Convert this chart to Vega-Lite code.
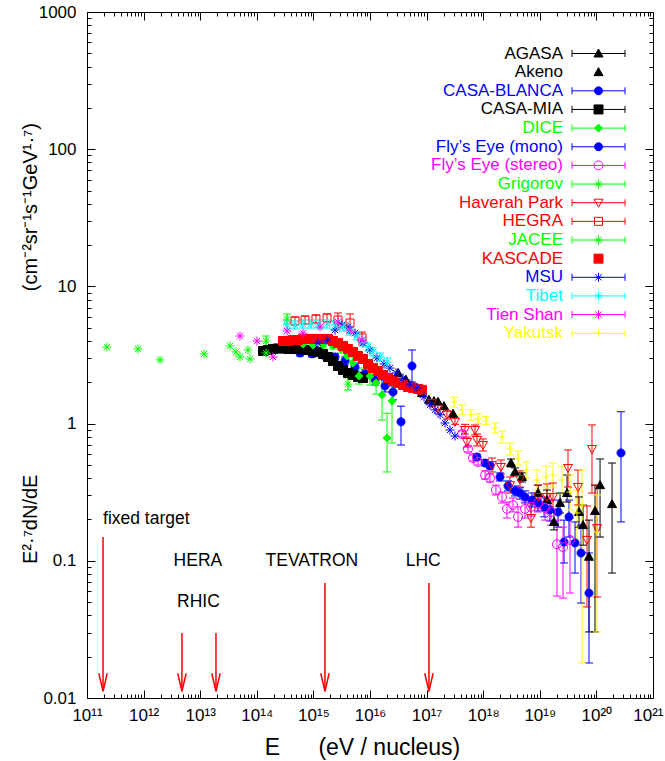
{
"$schema": "https://vega.github.io/schema/vega-lite/v6.json",
"width": 566, "height": 686,
"autosize": {"type": "none"},
"padding": {"left": 87, "top": 12, "right": 12, "bottom": 63},
"background": "white",
"config": {
  "font": "Liberation Sans",
  "view": {"stroke": "#000000", "strokeWidth": 1},
  "axis": {"grid": false, "domain": false, "tickColor": "#000000", "tickWidth": 1, "labelColor": "#000000", "titleColor": "#000000", "labelFont": "Liberation Sans", "titleFont": "Liberation Sans", "labelFontSize": 17, "titleFontSize": 20, "titleFontWeight": "normal", "labelFlush": false, "labelOverlap": false, "labelBound": false}
},
"resolve": {"axis": {"x": "independent", "y": "independent"}, "legend": {"stroke": "independent"}},
"datasets": {
"cr": [
{"s":"AGASA","e":3.1e18,"f":0.516,"lo":0.483,"hi":0.552},
{"s":"AGASA","e":3.65e18,"f":0.444,"lo":0.415,"hi":0.475},
{"s":"AGASA","e":4.85e18,"f":0.408,"lo":0.375,"hi":0.437},
{"s":"AGASA","e":9.3e18,"f":0.312,"lo":0.277,"hi":0.356},
{"s":"AGASA","e":1.34e19,"f":0.277,"lo":0.235,"hi":0.328},
{"s":"AGASA","e":1.78e19,"f":0.192,"lo":0.168,"hi":0.227},
{"s":"AGASA","e":2.28e19,"f":0.264,"lo":0.223,"hi":0.312},
{"s":"AGASA","e":3.03e19,"f":0.312,"lo":0.268,"hi":0.422},
{"s":"AGASA","e":4.93e19,"f":0.227,"lo":0.176,"hi":0.292},
{"s":"AGASA","e":5.8e19,"f":0.182,"lo":0.13,"hi":0.255},
{"s":"AGASA","e":7.4e19,"f":0.107,"lo":0.0303,"hi":0.198},
{"s":"AGASA","e":9.45e19,"f":0.231,"lo":0.0303,"hi":0.356},
{"s":"AGASA","e":1.16e20,"f":0.356,"lo":0.149,"hi":0.552},
{"s":"AGASA","e":1.89e20,"f":0.259,"lo":0.0814,"hi":0.516},
{"s":"Akeno","e":3.13e16,"f":2.34},
{"s":"Akeno","e":4.33e16,"f":2.08},
{"s":"Akeno","e":5.98e16,"f":1.85},
{"s":"Akeno","e":8.29e16,"f":1.67},
{"s":"Akeno","e":1.1e17,"f":1.49},
{"s":"Akeno","e":1.35e17,"f":1.46},
{"s":"Akeno","e":1.59e17,"f":1.44},
{"s":"Akeno","e":2.03e17,"f":1.34},
{"s":"Akeno","e":2.93e17,"f":1.18},
{"s":"CASA-BLANCA","e":5.8e14,"f":3.27,"lo":3.11,"hi":3.44},
{"s":"CASA-BLANCA","e":9.44e14,"f":3.22,"lo":3.06,"hi":3.38},
{"s":"CASA-BLANCA","e":1.48e15,"f":3.16,"lo":3.01,"hi":3.33},
{"s":"CASA-BLANCA","e":2.41e15,"f":3.06,"lo":2.91,"hi":3.22},
{"s":"CASA-BLANCA","e":3.62e15,"f":2.86,"lo":2.67,"hi":3.06},
{"s":"CASA-BLANCA","e":5.43e15,"f":2.59,"lo":2.42,"hi":2.77},
{"s":"CASA-BLANCA","e":8.16e15,"f":2.3,"lo":2.15,"hi":2.46},
{"s":"CASA-BLANCA","e":1.23e16,"f":2.08,"lo":1.91,"hi":2.26},
{"s":"CASA-BLANCA","e":1.84e16,"f":1.88,"lo":1.7,"hi":2.05},
{"s":"CASA-BLANCA","e":2.55e16,"f":1.7,"lo":1.49,"hi":1.88},
{"s":"CASA-BLANCA","e":3.53e16,"f":1.03,"lo":0.698,"hi":1.34},
{"s":"CASA-BLANCA","e":5.52e16,"f":2.63,"lo":2.01,"hi":3.44},
{"s":"CASA-MIA","e":1.29e14,"f":3.38},
{"s":"CASA-MIA","e":1.58e14,"f":3.44},
{"s":"CASA-MIA","e":1.93e14,"f":3.5},
{"s":"CASA-MIA","e":2.37e14,"f":3.53},
{"s":"CASA-MIA","e":2.9e14,"f":3.53},
{"s":"CASA-MIA","e":3.56e14,"f":3.5},
{"s":"CASA-MIA","e":4.36e14,"f":3.5},
{"s":"CASA-MIA","e":5.35e14,"f":3.5},
{"s":"CASA-MIA","e":6.55e14,"f":3.47},
{"s":"CASA-MIA","e":8.03e14,"f":3.44},
{"s":"CASA-MIA","e":9.85e14,"f":3.38},
{"s":"CASA-MIA","e":1.21e15,"f":3.33},
{"s":"CASA-MIA","e":1.48e15,"f":3.22},
{"s":"CASA-MIA","e":1.81e15,"f":3.06},
{"s":"CASA-MIA","e":2.22e15,"f":2.86},
{"s":"CASA-MIA","e":2.72e15,"f":2.63},
{"s":"CASA-MIA","e":3.34e15,"f":2.46},
{"s":"CASA-MIA","e":4.08e15,"f":2.34},
{"s":"CASA-MIA","e":5.01e15,"f":2.26},
{"s":"CASA-MIA","e":6.14e15,"f":2.19},
{"s":"CASA-MIA","e":7.52e15,"f":2.15},
{"s":"DICE","e":6.55e14,"f":3.8,"lo":3.61,"hi":4.0},
{"s":"DICE","e":9.85e14,"f":3.74,"lo":3.56,"hi":3.94},
{"s":"DICE","e":1.48e15,"f":3.74,"lo":3.56,"hi":3.94},
{"s":"DICE","e":2.22e15,"f":3.68,"lo":3.5,"hi":3.87},
{"s":"DICE","e":3.08e15,"f":3.5,"lo":3.27,"hi":3.74},
{"s":"DICE","e":3.92e15,"f":3.11,"lo":2.86,"hi":3.38},
{"s":"DICE","e":5.01e15,"f":2.77,"lo":2.5,"hi":3.06},
{"s":"DICE","e":6.4e15,"f":2.22,"lo":1.94,"hi":2.54},
{"s":"DICE","e":1.0e16,"f":2.22,"lo":1.91,"hi":2.59},
{"s":"DICE","e":1.28e16,"f":1.98,"lo":1.64,"hi":2.38},
{"s":"DICE","e":1.63e16,"f":1.62,"lo":1.06,"hi":2.34},
{"s":"DICE","e":2.0e16,"f":0.786,"lo":0.444,"hi":1.19},
{"s":"DICE","e":2.45e16,"f":1.46,"lo":0.722,"hi":1.98},
{"s":"Fly’s Eye (mono)","e":7.77e17,"f":0.571,"lo":0.543,"hi":0.6},
{"s":"Fly’s Eye (mono)","e":1.08e18,"f":0.516,"lo":0.491,"hi":0.543},
{"s":"Fly’s Eye (mono)","e":1.32e18,"f":0.491,"lo":0.467,"hi":0.516},
{"s":"Fly’s Eye (mono)","e":1.98e18,"f":0.408,"lo":0.382,"hi":0.437},
{"s":"Fly’s Eye (mono)","e":2.74e18,"f":0.351,"lo":0.323,"hi":0.382},
{"s":"Fly’s Eye (mono)","e":3.65e18,"f":0.323,"lo":0.297,"hi":0.351},
{"s":"Fly’s Eye (mono)","e":4.47e18,"f":0.312,"lo":0.282,"hi":0.34},
{"s":"Fly’s Eye (mono)","e":5.48e18,"f":0.292,"lo":0.264,"hi":0.323},
{"s":"Fly’s Eye (mono)","e":7.28e18,"f":0.277,"lo":0.247,"hi":0.312},
{"s":"Fly’s Eye (mono)","e":9.3e18,"f":0.264,"lo":0.231,"hi":0.302},
{"s":"Fly’s Eye (mono)","e":1.19e19,"f":0.247,"lo":0.209,"hi":0.287},
{"s":"Fly’s Eye (mono)","e":1.51e19,"f":0.235,"lo":0.195,"hi":0.277},
{"s":"Fly’s Eye (mono)","e":2.1e19,"f":0.227,"lo":0.176,"hi":0.277},
{"s":"Fly’s Eye (mono)","e":2.68e19,"f":0.137,"lo":0.0964,"hi":0.198},
{"s":"Fly’s Eye (mono)","e":3.28e19,"f":0.209,"lo":0.149,"hi":0.277},
{"s":"Fly’s Eye (mono)","e":4.19e19,"f":0.135,"lo":0.0814,"hi":0.192},
{"s":"Fly’s Eye (mono)","e":5.35e19,"f":0.114,"lo":0.0492,"hi":0.182},
{"s":"Fly’s Eye (mono)","e":7.4e19,"f":0.0582,"lo":0.018,"hi":0.114},
{"s":"Fly’s Eye (mono)","e":2.72e20,"f":0.611,"lo":0.192,"hi":1.22},
{"s":"Fly’s Eye (stereo)","e":4.22e17,"f":0.84,"lo":0.798,"hi":0.883},
{"s":"Fly’s Eye (stereo)","e":5.38e17,"f":0.653,"lo":0.621,"hi":0.687},
{"s":"Fly’s Eye (stereo)","e":6.6e17,"f":0.561,"lo":0.534,"hi":0.591},
{"s":"Fly’s Eye (stereo)","e":8.09e17,"f":0.525,"lo":0.499,"hi":0.552},
{"s":"Fly’s Eye (stereo)","e":1.08e18,"f":0.422,"lo":0.394,"hi":0.452},
{"s":"Fly’s Eye (stereo)","e":1.32e18,"f":0.401,"lo":0.375,"hi":0.43},
{"s":"Fly’s Eye (stereo)","e":1.68e18,"f":0.328,"lo":0.302,"hi":0.356},
{"s":"Fly’s Eye (stereo)","e":2.15e18,"f":0.292,"lo":0.264,"hi":0.317},
{"s":"Fly’s Eye (stereo)","e":2.63e18,"f":0.239,"lo":0.205,"hi":0.268},
{"s":"Fly’s Eye (stereo)","e":3.36e18,"f":0.255,"lo":0.227,"hi":0.287},
{"s":"Fly’s Eye (stereo)","e":4.12e18,"f":0.209,"lo":0.176,"hi":0.247},
{"s":"Fly’s Eye (stereo)","e":5.48e18,"f":0.239,"lo":0.205,"hi":0.273},
{"s":"Fly’s Eye (stereo)","e":7.0e18,"f":0.247,"lo":0.212,"hi":0.287},
{"s":"Fly’s Eye (stereo)","e":9.3e18,"f":0.264,"lo":0.227,"hi":0.307},
{"s":"Fly’s Eye (stereo)","e":1.24e19,"f":0.243,"lo":0.198,"hi":0.292},
{"s":"Fly’s Eye (stereo)","e":1.58e19,"f":0.227,"lo":0.182,"hi":0.277},
{"s":"Fly’s Eye (stereo)","e":2.01e19,"f":0.132,"lo":0.0553,"hi":0.198},
{"s":"Fly’s Eye (stereo)","e":2.57e19,"f":0.126,"lo":0.0535,"hi":0.176},
{"s":"Fly’s Eye (stereo)","e":3.42e19,"f":0.142,"lo":0.0582,"hi":0.205},
{"s":"Grigorov","e":2.25e11,"f":3.61},
{"s":"Grigorov","e":7.96e11,"f":3.5},
{"s":"Grigorov","e":1.95e12,"f":2.91},
{"s":"Grigorov","e":1.17e13,"f":3.22},
{"s":"Grigorov","e":3.36e13,"f":3.68},
{"s":"Grigorov","e":4.29e13,"f":3.33},
{"s":"Grigorov","e":5.05e13,"f":3.06},
{"s":"Grigorov","e":7.0e13,"f":3.44},
{"s":"Grigorov","e":7.59e13,"f":2.96},
{"s":"Grigorov","e":1.46e14,"f":3.27},
{"s":"Haverah Park","e":1.24e17,"f":1.41,"lo":1.34,"hi":1.49},
{"s":"Haverah Park","e":1.59e17,"f":1.28,"lo":1.19,"hi":1.37},
{"s":"Haverah Park","e":2.29e17,"f":1.16,"lo":1.08,"hi":1.24},
{"s":"Haverah Park","e":3.17e17,"f":1.03,"lo":0.988,"hi":1.1},
{"s":"Haverah Park","e":4.77e17,"f":0.898,"lo":0.84,"hi":0.988},
{"s":"Haverah Park","e":7.16e17,"f":0.898,"lo":0.826,"hi":0.977},
{"s":"Haverah Park","e":5.17e17,"f":0.734,"lo":0.675,"hi":0.798},
{"s":"Haverah Park","e":7.77e17,"f":0.759,"lo":0.687,"hi":0.84},
{"s":"Haverah Park","e":9.91e17,"f":0.698,"lo":0.631,"hi":0.773},
{"s":"Haverah Park","e":1.43e18,"f":0.499,"lo":0.444,"hi":0.561},
{"s":"Haverah Park","e":2.06e18,"f":0.483,"lo":0.43,"hi":0.543},
{"s":"Haverah Park","e":2.97e18,"f":0.356,"lo":0.312,"hi":0.408},
{"s":"Haverah Park","e":4.47e18,"f":0.394,"lo":0.345,"hi":0.452},
{"s":"Haverah Park","e":7.0e18,"f":0.205,"lo":0.176,"hi":0.255},
{"s":"Haverah Park","e":9.3e18,"f":0.292,"lo":0.243,"hi":0.356},
{"s":"Haverah Park","e":1.34e19,"f":0.292,"lo":0.235,"hi":0.363},
{"s":"Haverah Park","e":1.71e19,"f":0.292,"lo":0.227,"hi":0.369},
{"s":"Haverah Park","e":3.15e19,"f":0.475,"lo":0.345,"hi":0.643},
{"s":"Haverah Park","e":4.73e19,"f":0.345,"lo":0.255,"hi":0.459},
{"s":"Haverah Park","e":6.82e19,"f":0.142,"lo":0.0461,"hi":0.251},
{"s":"Haverah Park","e":8.36e19,"f":0.653,"lo":0.312,"hi":0.978},
{"s":"Haverah Park","e":1.03e20,"f":0.173,"lo":0.0544,"hi":0.356},
{"s":"HEGRA","e":4.73e14,"f":5.6,"lo":5.24,"hi":5.98},
{"s":"HEGRA","e":7.11e14,"f":5.69,"lo":5.32,"hi":6.08},
{"s":"HEGRA","e":1.11e15,"f":5.78,"lo":5.41,"hi":6.19},
{"s":"HEGRA","e":1.74e15,"f":5.89,"lo":5.51,"hi":6.3},
{"s":"HEGRA","e":2.72e15,"f":5.69,"lo":4.98,"hi":6.4},
{"s":"HEGRA","e":4.44e15,"f":5.41,"lo":4.57,"hi":6.3},
{"s":"HEGRA","e":7.22e15,"f":4.21,"lo":3.74,"hi":4.65},
{"s":"JACEE","e":1.46e14,"f":4.0,"lo":3.68,"hi":4.35},
{"s":"JACEE","e":3.42e14,"f":5.78,"lo":5.32,"hi":6.3},
{"s":"JACEE","e":4.08e15,"f":1.94,"lo":1.76,"hi":2.15},
{"s":"KASCADE","e":2.9e14,"f":4.0},
{"s":"KASCADE","e":3.56e14,"f":4.0},
{"s":"KASCADE","e":4.36e14,"f":4.06},
{"s":"KASCADE","e":5.35e14,"f":4.06},
{"s":"KASCADE","e":6.55e14,"f":4.14},
{"s":"KASCADE","e":8.03e14,"f":4.14},
{"s":"KASCADE","e":9.85e14,"f":4.14},
{"s":"KASCADE","e":1.21e15,"f":4.14},
{"s":"KASCADE","e":1.48e15,"f":4.14},
{"s":"KASCADE","e":1.81e15,"f":4.14},
{"s":"KASCADE","e":2.22e15,"f":4.0},
{"s":"KASCADE","e":2.72e15,"f":3.87},
{"s":"KASCADE","e":3.34e15,"f":3.68},
{"s":"KASCADE","e":4.08e15,"f":3.5},
{"s":"KASCADE","e":5.01e15,"f":3.33},
{"s":"KASCADE","e":6.14e15,"f":3.11},
{"s":"KASCADE","e":7.52e15,"f":2.96},
{"s":"KASCADE","e":9.22e15,"f":2.72},
{"s":"KASCADE","e":1.13e16,"f":2.54},
{"s":"KASCADE","e":1.38e16,"f":2.42},
{"s":"KASCADE","e":1.7e16,"f":2.26},
{"s":"KASCADE","e":2.08e16,"f":2.15},
{"s":"KASCADE","e":2.55e16,"f":2.05},
{"s":"KASCADE","e":3.13e16,"f":1.98},
{"s":"KASCADE","e":3.83e16,"f":1.91},
{"s":"KASCADE","e":4.69e16,"f":1.85},
{"s":"KASCADE","e":5.75e16,"f":1.82},
{"s":"KASCADE","e":7.05e16,"f":1.79},
{"s":"KASCADE","e":8.29e16,"f":1.76},
{"s":"MSU","e":1.21e15,"f":3.87},
{"s":"MSU","e":1.74e15,"f":4.06},
{"s":"MSU","e":2.41e15,"f":4.81},
{"s":"MSU","e":3.2e15,"f":5.24},
{"s":"MSU","e":4.08e15,"f":5.06},
{"s":"MSU","e":5.43e15,"f":4.57},
{"s":"MSU","e":7.52e15,"f":3.87},
{"s":"MSU","e":1.0e16,"f":3.44},
{"s":"MSU","e":1.33e16,"f":3.01},
{"s":"MSU","e":1.77e16,"f":2.72},
{"s":"MSU","e":2.25e16,"f":2.54},
{"s":"MSU","e":2.88e16,"f":2.34},
{"s":"MSU","e":3.83e16,"f":2.15},
{"s":"MSU","e":5.09e16,"f":1.94},
{"s":"MSU","e":6.77e16,"f":1.82},
{"s":"MSU","e":9.0e16,"f":1.56},
{"s":"MSU","e":1.15e17,"f":1.37},
{"s":"MSU","e":1.41e17,"f":1.26},
{"s":"MSU","e":1.73e17,"f":1.16},
{"s":"MSU","e":2.11e17,"f":1.01},
{"s":"MSU","e":2.59e17,"f":0.898},
{"s":"MSU","e":3.17e17,"f":0.812},
{"s":"Tibet","e":3.42e14,"f":5.24,"lo":4.9,"hi":5.61},
{"s":"Tibet","e":4.73e14,"f":5.24,"lo":4.9,"hi":5.61},
{"s":"Tibet","e":6.55e14,"f":5.32,"lo":4.97,"hi":5.69},
{"s":"Tibet","e":9.08e14,"f":5.32,"lo":4.97,"hi":5.69},
{"s":"Tibet","e":1.26e15,"f":5.32,"lo":4.97,"hi":5.69},
{"s":"Tibet","e":1.74e15,"f":5.32,"lo":4.97,"hi":5.69},
{"s":"Tibet","e":2.41e15,"f":5.24,"lo":4.9,"hi":5.61},
{"s":"Tibet","e":3.34e15,"f":5.06,"lo":4.73,"hi":5.41},
{"s":"Tibet","e":4.44e15,"f":4.73,"lo":4.42,"hi":5.06},
{"s":"Tibet","e":5.89e15,"f":4.35,"lo":4.07,"hi":4.65},
{"s":"Tibet","e":7.52e15,"f":3.94,"lo":3.68,"hi":4.21},
{"s":"Tibet","e":9.22e15,"f":3.61,"lo":3.38,"hi":3.87},
{"s":"Tibet","e":1.13e16,"f":3.33,"lo":3.11,"hi":3.56},
{"s":"Tibet","e":1.5e16,"f":3.06,"lo":2.86,"hi":3.27},
{"s":"Tibet","e":2.0e16,"f":2.81,"lo":2.63,"hi":3.01},
{"s":"Tien Shan","e":5.05e13,"f":4.35},
{"s":"Tien Shan","e":1.01e14,"f":4.0},
{"s":"Tien Shan","e":1.93e14,"f":3.06},
{"s":"Tien Shan","e":3.42e14,"f":4.73},
{"s":"Tien Shan","e":6.55e14,"f":4.57},
{"s":"Tien Shan","e":1.31e15,"f":5.06},
{"s":"Tien Shan","e":2.72e15,"f":5.51},
{"s":"Tien Shan","e":4.44e15,"f":4.81},
{"s":"Tien Shan","e":7.22e15,"f":4.06},
{"s":"Yakutsk","e":3.05e17,"f":1.44,"lo":1.32,"hi":1.56},
{"s":"Yakutsk","e":4.22e17,"f":1.26,"lo":1.16,"hi":1.37},
{"s":"Yakutsk","e":6.09e17,"f":1.16,"lo":1.06,"hi":1.26},
{"s":"Yakutsk","e":8.09e17,"f":1.08,"lo":1.0,"hi":1.18},
{"s":"Yakutsk","e":1.12e18,"f":1.045,"lo":0.988,"hi":1.13},
{"s":"Yakutsk","e":1.62e18,"f":0.929,"lo":0.854,"hi":1.01},
{"s":"Yakutsk","e":2.15e18,"f":0.798,"lo":0.722,"hi":0.883},
{"s":"Yakutsk","e":2.97e18,"f":0.653,"lo":0.591,"hi":0.722},
{"s":"Yakutsk","e":4.12e18,"f":0.561,"lo":0.499,"hi":0.631},
{"s":"Yakutsk","e":5.71e18,"f":0.459,"lo":0.401,"hi":0.525},
{"s":"Yakutsk","e":8.93e18,"f":0.388,"lo":0.328,"hi":0.459},
{"s":"Yakutsk","e":1.29e19,"f":0.408,"lo":0.34,"hi":0.491},
{"s":"Yakutsk","e":1.71e19,"f":0.422,"lo":0.345,"hi":0.516},
{"s":"Yakutsk","e":2.47e19,"f":0.388,"lo":0.307,"hi":0.491},
{"s":"Yakutsk","e":3.42e19,"f":0.317,"lo":0.235,"hi":0.422},
{"s":"Yakutsk","e":4.54e19,"f":0.223,"lo":0.142,"hi":0.328},
{"s":"Yakutsk","e":5.57e19,"f":0.255,"lo":0.018,"hi":0.459},
{"s":"Yakutsk","e":1.03e20,"f":0.162,"lo":0.0303,"hi":0.302}
],
"acc": [
{"name":"fixed target","e":1.92e11,"top":0.149},
{"name":"HERA","e":4.76e12,"top":0.0298},
{"name":"RHIC","e":1.9e13,"top":0.0298},
{"name":"TEVATRON","e":1.6e15,"top":0.069},
{"name":"LHC","e":1.1e17,"top":0.069}
],
"lbl": [
{"label":"fixed target","e":1.92e11,"f":0.2},
{"label":"HERA","e":9.1e12,"f":0.1},
{"label":"RHIC","e":9.3e12,"f":0.05},
{"label":"TEVATRON","e":9.4e14,"f":0.1},
{"label":"LHC","e":8.7e16,"f":0.1}
]
},
"layer": [
{
 "data": {"name": "cr"},
 "transform": [{"filter": "isValid(datum.lo)"}],
 "mark": {"type": "rule", "strokeWidth": 1},
 "encoding": {
  "x": {"field": "e", "type": "quantitative", "scale": {"type": "log", "domain": [1e11, 1e21], "nice": false},
        "axis": {"orient": "bottom", "values": [1e11,1e12,1e13,1e14,1e15,1e16,1e17,1e18,1e19,1e20,1e21], "labelExpr": "'10' + ['⁰','¹','²','³','⁴','⁵','⁶','⁷','⁸','⁹'][floor(round(log(datum.value)/LN10)/10)] + ['⁰','¹','²','³','⁴','⁵','⁶','⁷','⁸','⁹'][round(log(datum.value)/LN10)%10]", "labelAlign": {"condition": {"test": "datum.value > 5e20", "value": "right"}, "value": "center"}, "labelOffset": {"condition": {"test": "datum.value > 5e20", "value": 10}, "value": 0}, "tickSize": -8, "labelPadding": 17, "title": "E\u00a0\u00a0\u00a0\u00a0\u00a0\u00a0(eV / nucleus)", "titleFontSize": 23, "titleX": 275, "titleY": 38, "titleBaseline": "top"}},
  "y": {"field": "lo", "type": "quantitative", "scale": {"type": "log", "domain": [0.01, 1000], "nice": false},
        "axis": {"orient": "left", "values": [0.01,0.1,1,10,100,1000], "labelExpr": "datum.value < 1 ? format(datum.value, '.2~f') : format(datum.value, 'd')", "tickSize": -8, "labelPadding": 19, "title": "E²·⁷dN/dE\u00a0\u00a0\u00a0\u00a0\u00a0\u00a0\u00a0\u00a0\u00a0\u00a0\u00a0\u00a0\u00a0\u00a0\u00a0\u00a0\u00a0\u00a0\u00a0\u00a0\u00a0\u00a0\u00a0\u00a0\u00a0\u00a0\u00a0\u00a0\u00a0\u00a0\u00a0\u00a0\u00a0(cm⁻²sr⁻¹s⁻¹GeV¹·⁷)", "titleX": -47, "titleY": 331, "titleAngle": 270, "titleBaseline": "bottom", "titleAlign": "center"}},
  "y2": {"field": "hi"},
  "stroke": {"field": "s", "type": "nominal", "legend": null,
    "scale": {"domain": ["AGASA","Akeno","CASA-BLANCA","CASA-MIA","DICE","Fly’s Eye (mono)","Fly’s Eye (stereo)","Grigorov","Haverah Park","HEGRA","JACEE","KASCADE","MSU","Tibet","Tien Shan","Yakutsk"],
              "range": ["#000000","#000000","#0000ff","#000000","#00ff00","#0000ff","#ff00ff","#00ff00","#ff0000","#ff0000","#00ff00","#ff0000","#0000ff","#00ffff","#ff00ff","#ffff00"]}}
 }
},
{
 "data": {"name": "cr"},
 "transform": [{"filter": "isValid(datum.lo)"}],
 "mark": {"type": "point", "shape": "M-4,0H4", "size": 4, "filled": false, "strokeWidth": 1, "opacity": 1},
 "encoding": {
  "x": {"field": "e", "type": "quantitative", "scale": {"type": "log", "domain": [1e11, 1e21], "nice": false},
        "axis": {"orient": "top", "values": [1e11,1e12,1e13,1e14,1e15,1e16,1e17,1e18,1e19,1e20,1e21], "labels": false, "tickSize": -8, "title": null}},
  "y": {"field": "lo", "type": "quantitative", "scale": {"type": "log", "domain": [0.01, 1000], "nice": false},
        "axis": {"orient": "right", "values": [0.01,0.1,1,10,100,1000], "labels": false, "tickSize": -8, "title": null}},
  "stroke": {"field": "s", "type": "nominal", "legend": null,
    "scale": {"domain": ["AGASA","Akeno","CASA-BLANCA","CASA-MIA","DICE","Fly’s Eye (mono)","Fly’s Eye (stereo)","Grigorov","Haverah Park","HEGRA","JACEE","KASCADE","MSU","Tibet","Tien Shan","Yakutsk"],
              "range": ["#000000","#000000","#0000ff","#000000","#00ff00","#0000ff","#ff00ff","#00ff00","#ff0000","#ff0000","#00ff00","#ff0000","#0000ff","#00ffff","#ff00ff","#ffff00"]}}
 }
},
{
 "data": {"name": "cr"},
 "transform": [{"filter": "isValid(datum.lo)"}],
 "mark": {"type": "point", "shape": "M-4,0H4", "size": 4, "filled": false, "strokeWidth": 1, "opacity": 1},
 "encoding": {
  "x": {"field": "e", "type": "quantitative", "scale": {"type": "log", "domain": [1e11, 1e21], "nice": false},
        "axis": {"orient": "bottom", "values": [2e11,3e11,4e11,5e11,6e11,7e11,8e11,9e11,2e12,3e12,4e12,5e12,6e12,7e12,8e12,9e12,2e13,3e13,4e13,5e13,6e13,7e13,8e13,9e13,2e14,3e14,4e14,5e14,6e14,7e14,8e14,9e14,2e15,3e15,4e15,5e15,6e15,7e15,8e15,9e15,2e16,3e16,4e16,5e16,6e16,7e16,8e16,9e16,2e17,3e17,4e17,5e17,6e17,7e17,8e17,9e17,2e18,3e18,4e18,5e18,6e18,7e18,8e18,9e18,2e19,3e19,4e19,5e19,6e19,7e19,8e19,9e19,2e20,3e20,4e20,5e20,6e20,7e20,8e20,9e20], "labels": false, "tickSize": -4, "title": null}},
  "y": {"field": "hi", "type": "quantitative", "scale": {"type": "log", "domain": [0.01, 1000], "nice": false},
        "axis": {"orient": "left", "values": [0.02,0.03,0.04,0.05,0.06,0.07,0.08,0.09,0.2,0.3,0.4,0.5,0.6,0.7,0.8,0.9,2,3,4,5,6,7,8,9,20,30,40,50,60,70,80,90,200,300,400,500,600,700,800,900], "labels": false, "tickSize": -4, "title": null}},
  "stroke": {"field": "s", "type": "nominal", "legend": null,
    "scale": {"domain": ["AGASA","Akeno","CASA-BLANCA","CASA-MIA","DICE","Fly’s Eye (mono)","Fly’s Eye (stereo)","Grigorov","Haverah Park","HEGRA","JACEE","KASCADE","MSU","Tibet","Tien Shan","Yakutsk"],
              "range": ["#000000","#000000","#0000ff","#000000","#00ff00","#0000ff","#ff00ff","#00ff00","#ff0000","#ff0000","#00ff00","#ff0000","#0000ff","#00ffff","#ff00ff","#ffff00"]}}
 }
},
{
 "data": {"name": "cr"},
 "mark": {"type": "point", "size": 4, "filled": true, "strokeWidth": 1, "opacity": 1},
 "encoding": {
  "x": {"field": "e", "type": "quantitative", "scale": {"type": "log", "domain": [1e11, 1e21], "nice": false},
        "axis": {"orient": "top", "values": [2e11,3e11,4e11,5e11,6e11,7e11,8e11,9e11,2e12,3e12,4e12,5e12,6e12,7e12,8e12,9e12,2e13,3e13,4e13,5e13,6e13,7e13,8e13,9e13,2e14,3e14,4e14,5e14,6e14,7e14,8e14,9e14,2e15,3e15,4e15,5e15,6e15,7e15,8e15,9e15,2e16,3e16,4e16,5e16,6e16,7e16,8e16,9e16,2e17,3e17,4e17,5e17,6e17,7e17,8e17,9e17,2e18,3e18,4e18,5e18,6e18,7e18,8e18,9e18,2e19,3e19,4e19,5e19,6e19,7e19,8e19,9e19,2e20,3e20,4e20,5e20,6e20,7e20,8e20,9e20], "labels": false, "tickSize": -4, "title": null}},
  "y": {"field": "f", "type": "quantitative", "scale": {"type": "log", "domain": [0.01, 1000], "nice": false},
        "axis": {"orient": "right", "values": [0.02,0.03,0.04,0.05,0.06,0.07,0.08,0.09,0.2,0.3,0.4,0.5,0.6,0.7,0.8,0.9,2,3,4,5,6,7,8,9,20,30,40,50,60,70,80,90,200,300,400,500,600,700,800,900], "labels": false, "tickSize": -4, "title": null}},
  "shape": {"field": "s", "type": "nominal", "legend": null,
    "scale": {"domain": ["Akeno","CASA-BLANCA","CASA-MIA","DICE","Fly’s Eye (mono)","Fly’s Eye (stereo)","Grigorov","Haverah Park","HEGRA","JACEE","KASCADE","MSU","Tibet","Tien Shan","Yakutsk","AGASA"],
              "range": ["M0,-4.5L4.5,3.5L-4.5,3.5Z","M-4,0A4,4,0,1,1,4,0A4,4,0,1,1,-4,0Z","M-4.5,-4.5H4.5V4.5H-4.5Z","M0,-4L4,0L0,4L-4,0Z","M-4,0A4,4,0,1,1,4,0A4,4,0,1,1,-4,0Z","M-4.5,0A4.5,4.5,0,1,1,4.5,0A4.5,4.5,0,1,1,-4.5,0Z","M-4.5,0H4.5M0,-4.5V4.5M-3.2,-3.2L3.2,3.2M-3.2,3.2L3.2,-3.2","M0,4.5L4.5,-3.5L-4.5,-3.5Z","M-4,-4H4V4H-4Z","M-4.5,0H4.5M0,-4.5V4.5M-3.2,-3.2L3.2,3.2M-3.2,3.2L3.2,-3.2","M-4.5,-4.5H4.5V4.5H-4.5Z","M-4.5,0H4.5M0,-4.5V4.5M-3.2,-3.2L3.2,3.2M-3.2,3.2L3.2,-3.2","M-4.5,0H4.5M0,-4.5V4.5M-3.2,-3.2L3.2,3.2M-3.2,3.2L3.2,-3.2","M-4.5,0H4.5M0,-4.5V4.5M-3.2,-3.2L3.2,3.2M-3.2,3.2L3.2,-3.2","M-3.5,0H3.5M0,-3.5V3.5","M0,-4.5L4.5,3.5L-4.5,3.5Z"]}},
  "fill": {"field": "s", "type": "nominal", "legend": null,
    "scale": {"domain": ["Yakutsk","Tien Shan","Tibet","MSU","KASCADE","JACEE","HEGRA","Haverah Park","Grigorov","Fly’s Eye (stereo)","Fly’s Eye (mono)","DICE","CASA-MIA","CASA-BLANCA","Akeno","AGASA"],
              "range": ["transparent","transparent","transparent","transparent","#ff0000","transparent","transparent","transparent","transparent","transparent","#0000ff","#00ff00","#000000","#0000ff","#000000","#000000"]}},
  "stroke": {"field": "s", "type": "nominal",
    "scale": {"domain": ["AGASA","Akeno","CASA-BLANCA","CASA-MIA","DICE","Fly’s Eye (mono)","Fly’s Eye (stereo)","Grigorov","Haverah Park","HEGRA","JACEE","KASCADE","MSU","Tibet","Tien Shan","Yakutsk"],
              "range": ["#000000","#000000","#0000ff","#000000","#00ff00","#0000ff","#ff00ff","#00ff00","#ff0000","#ff0000","#00ff00","#ff0000","#0000ff","#00ffff","#ff00ff","#ffff00"]},
    "legend": {"orient": "none", "legendX": 503, "legendY": 33, "title": null, "padding": 0, "rowPadding": 0.65, "labelAlign": "right", "labelOffset": -44, "labelFont": "Liberation Sans", "labelFontSize": 17, "labelLimit": 400, "symbolSize": 4, "symbolStrokeWidth": 1,
      "labelColor": {"expr": "scale('stroke', datum.value)"},
      "symbolFillColor": {"expr": "scale('fill', datum.value)"},
      "symbolType": {"expr": "['M-26.5,0H26.5M-26.5,-3.5V3.5M26.5,-3.5V3.5M0,-4.5L4.5,3.5L-4.5,3.5Z','M0,-4.5L4.5,3.5L-4.5,3.5Z','M-26.5,0H26.5M-26.5,-3.5V3.5M26.5,-3.5V3.5M-4,0A4,4,0,1,1,4,0A4,4,0,1,1,-4,0Z','M-26.5,0H26.5M-26.5,-3.5V3.5M26.5,-3.5V3.5M-4.5,-4.5H4.5V4.5H-4.5Z','M-26.5,0H26.5M-26.5,-3.5V3.5M26.5,-3.5V3.5M0,-4L4,0L0,4L-4,0Z','M-26.5,0H26.5M-26.5,-3.5V3.5M26.5,-3.5V3.5M-4,0A4,4,0,1,1,4,0A4,4,0,1,1,-4,0Z','M-26.5,0H26.5M-26.5,-3.5V3.5M26.5,-3.5V3.5M-4.5,0A4.5,4.5,0,1,1,4.5,0A4.5,4.5,0,1,1,-4.5,0Z','M-26.5,0H26.5M-26.5,-3.5V3.5M26.5,-3.5V3.5M-4.5,0H4.5M0,-4.5V4.5M-3.2,-3.2L3.2,3.2M-3.2,3.2L3.2,-3.2','M-26.5,0H26.5M-26.5,-3.5V3.5M26.5,-3.5V3.5M0,4.5L4.5,-3.5L-4.5,-3.5Z','M-26.5,0H26.5M-26.5,-3.5V3.5M26.5,-3.5V3.5M-4,-4H4V4H-4Z','M-26.5,0H26.5M-26.5,-3.5V3.5M26.5,-3.5V3.5M-4.5,0H4.5M0,-4.5V4.5M-3.2,-3.2L3.2,3.2M-3.2,3.2L3.2,-3.2','M-4.5,-4.5H4.5V4.5H-4.5Z','M-26.5,0H26.5M-26.5,-3.5V3.5M26.5,-3.5V3.5M-4.5,0H4.5M0,-4.5V4.5M-3.2,-3.2L3.2,3.2M-3.2,3.2L3.2,-3.2','M-26.5,0H26.5M-26.5,-3.5V3.5M26.5,-3.5V3.5M-4.5,0H4.5M0,-4.5V4.5M-3.2,-3.2L3.2,3.2M-3.2,3.2L3.2,-3.2','M-26.5,0H26.5M-26.5,-3.5V3.5M26.5,-3.5V3.5M-4.5,0H4.5M0,-4.5V4.5M-3.2,-3.2L3.2,3.2M-3.2,3.2L3.2,-3.2','M-26.5,0H26.5M-26.5,-3.5V3.5M26.5,-3.5V3.5M-3.5,0H3.5M0,-3.5V3.5'][indexof(['AGASA','Akeno','CASA-BLANCA','CASA-MIA','DICE','Fly’s Eye (mono)','Fly’s Eye (stereo)','Grigorov','Haverah Park','HEGRA','JACEE','KASCADE','MSU','Tibet','Tien Shan','Yakutsk'], datum.value)]"}
    }
  }
 }
},
{
 "data": {"name": "acc"},
 "mark": {"type": "rule", "color": "#ff0000", "strokeWidth": 1.5},
 "encoding": {
  "x": {"field": "e", "type": "quantitative", "scale": {"type": "log", "domain": [1e11, 1e21], "nice": false}, "axis": null},
  "y": {"field": "top", "type": "quantitative", "scale": {"type": "log", "domain": [0.01, 1000], "nice": false}, "axis": null},
  "y2": {"datum": 0.0112}
 }
},
{
 "data": {"name": "acc"},
 "mark": {"type": "point", "shape": "M-4.2,-18L0,0L4.2,-18", "size": 4, "filled": false, "color": "#ff0000", "strokeWidth": 1.5, "opacity": 1},
 "encoding": {
  "x": {"field": "e", "type": "quantitative", "scale": {"type": "log", "domain": [1e11, 1e21], "nice": false}, "axis": null},
  "y": {"datum": 0.0112, "type": "quantitative", "scale": {"type": "log", "domain": [0.01, 1000], "nice": false}, "axis": null}
 }
},
{
 "data": {"name": "lbl"},
 "transform": [{"filter": "datum.label !== 'fixed target'"}],
 "mark": {"type": "text", "fontSize": 17.5, "color": "#000000", "align": "center", "baseline": "middle", "font": "Liberation Sans"},
 "encoding": {
  "x": {"field": "e", "type": "quantitative", "scale": {"type": "log", "domain": [1e11, 1e21], "nice": false}, "axis": null},
  "y": {"field": "f", "type": "quantitative", "scale": {"type": "log", "domain": [0.01, 1000], "nice": false}, "axis": null},
  "text": {"field": "label"}
 }
},
{
 "data": {"name": "lbl"},
 "transform": [{"filter": "datum.label === 'fixed target'"}],
 "mark": {"type": "text", "fontSize": 17.5, "color": "#000000", "align": "left", "baseline": "middle", "font": "Liberation Sans"},
 "encoding": {
  "x": {"field": "e", "type": "quantitative", "scale": {"type": "log", "domain": [1e11, 1e21], "nice": false}, "axis": null},
  "y": {"field": "f", "type": "quantitative", "scale": {"type": "log", "domain": [0.01, 1000], "nice": false}, "axis": null},
  "text": {"field": "label"}
 }
}
]
}
